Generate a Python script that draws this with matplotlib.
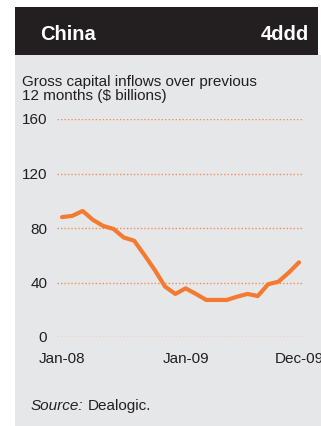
import matplotlib
matplotlib.use("Agg")
import matplotlib.pyplot as plt

# gross capital inflows over previous 12 months, Jan-08 .. Dec-09
months = list(range(24))
inflows = [88, 88.9, 92.5, 86, 81.5, 79.3, 73, 70.7, 60.2, 49.2, 37, 31.6,
           35.7, 31.6, 27.2, 27.2, 27.2, 29.6, 31.6, 30.1, 38.7, 40.6, 47.2, 54.8]
yticks = [0, 40, 80, 120, 160]
xtick_pos = [0, 12, 23]
xtick_labels = ["Jan-08", "Jan-09", "Dec-09"]

W, H = 321, 426
dark = "#231f20"
grey = "#e6e7e9"
orange = "#f47a32"
plt.rcParams["font.family"] = ["Liberation Sans", "DejaVu Sans"]

fig = plt.figure(figsize=(W / 100, H / 100), dpi=100)
fig.patch.set_facecolor("white")

def box(x0, y0, x1, y1):
    # pixel box (top-left origin) -> figure fraction rect
    return [x0 / W, 1 - y1 / H, (x1 - x0) / W, (y1 - y0) / H]

# background panels
bg = fig.add_axes(box(15, 55, 321, 426))
bg.set_facecolor(grey)
bg.set_xticks([]); bg.set_yticks([])
for s in bg.spines.values():
    s.set_visible(False)
hd = fig.add_axes(box(15, 7, 318, 55))
hd.set_facecolor(dark)
hd.set_xticks([]); hd.set_yticks([])
for s in hd.spines.values():
    s.set_visible(False)

fig.text(40 / W, 1 - 34 / H, "China", color="white", fontsize=14.5,
         fontweight="bold", va="center", ha="left")
fig.text(309 / W, 1 - 34 / H, "4ddd", color="white", fontsize=14.5,
         fontweight="bold", va="center", ha="right")
fig.text(22 / W, 1 - 89 / H, "Gross capital inflows over previous\n12 months ($ billions)",
         color=dark, fontsize=11, va="center", ha="left", linespacing=1.05)
src = fig.text(31 / W, 1 - 406 / H, "Source:", color=dark, fontsize=11,
               style="italic", va="center", ha="left")
r = fig.canvas.get_renderer()
bb = src.get_window_extent(renderer=r)
fig.text((bb.x1 + 4) / W, 1 - 406 / H, "Dealogic.", color=dark, fontsize=11,
         va="center", ha="left")

# chart axes: x 57..304 px, y 0 at 337 px, 160 at 119 px
ax = fig.add_axes(box(57, 119, 304, 337))
ax.patch.set_visible(False)
step = (299 - 62) / 23
ax.set_xlim(-5 / step, 23 + 5 / step)
ax.set_ylim(0, 160)
for y in yticks:
    ax.axhline(y, color="#f58c4c", lw=1.0, ls=(0, (1, 1.5)), zorder=1)
ax.plot(months, inflows, color=orange, lw=3, solid_capstyle="round",
        solid_joinstyle="round", clip_on=False, zorder=3)
for s in ax.spines.values():
    s.set_visible(False)
ax.set_yticks(yticks)
ax.set_yticklabels([str(v) for v in yticks])
ax.set_xticks(xtick_pos)
ax.set_xticklabels(xtick_labels)
ax.tick_params(axis="y", length=0, pad=7, labelsize=11, labelcolor=dark)
ax.tick_params(axis="x", length=0, pad=11, labelsize=11, labelcolor=dark)

fig.savefig("out.png", dpi=100)
